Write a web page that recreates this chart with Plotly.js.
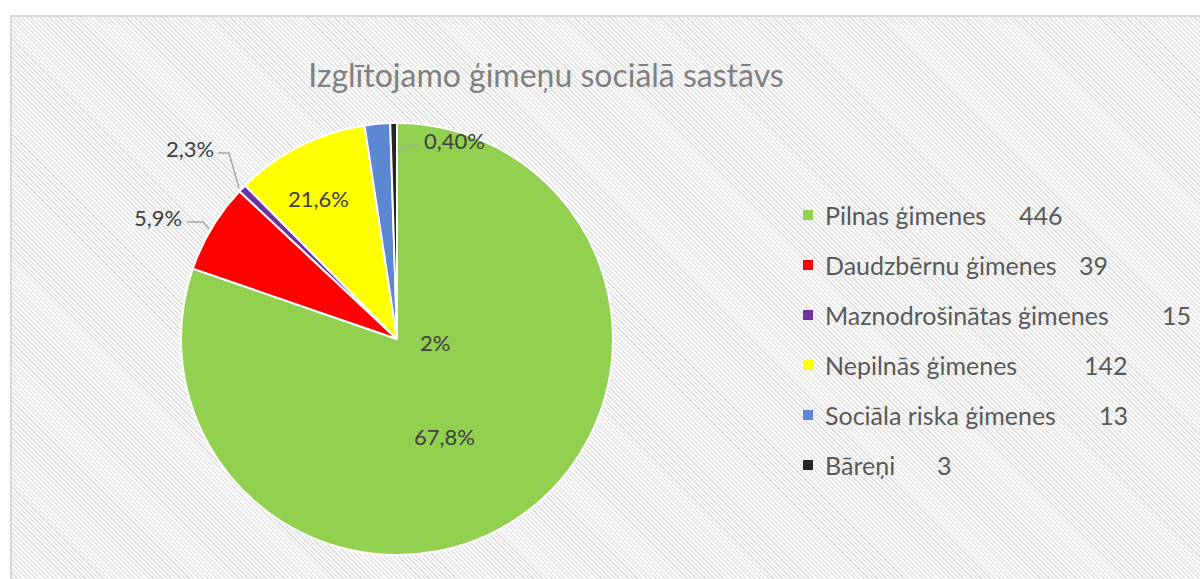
<!DOCTYPE html>
<html>
<head>
<meta charset="utf-8">
<script src="https://cdn.plot.ly/plotly-3.0.1.min.js"></script>
<style>
  html, body { margin: 0; padding: 0; background: #ffffff; width: 1200px; height: 579px; overflow: hidden; }
  #frame {
    position: absolute; left: 10px; top: 15px; width: 1200px; height: 600px;
    border-left: 2px solid #d9d9d9; border-top: 2px solid #d9d9d9;
    background: repeating-linear-gradient(45deg, #ffffff 0px, #ffffff 1.6px, #e3e3e3 1.6px, #e3e3e3 3.2px);
  }
  #chart { position: absolute; left: 0; top: 0; width: 1200px; height: 579px; }
</style>
</head>
<body>
<div id="frame"></div>
<div id="chart"></div>
<script>
// ---- data ----
const categories = ["Pilnas ģimenes", "Daudzbērnu ģimenes", "Maznodrošinātas ģimenes", "Nepilnās ģimenes", "Sociāla riska ģimenes", "Bāreņi"];
const counts = [446, 39, 15, 142, 13, 3];
// slice shares as drawn in the picture (%)
const sliceShares = [80.2, 6.7, 0.6, 10.0, 1.9, 0.5];
// data label texts as printed on the chart
const labelTexts = ["67,8%", "5,9%", "2,3%", "21,6%", "2%", "0,40%"];
const colors = ["#92d050", "#ff0000", "#7030a0", "#ffff00", "#5b87d3", "#262626"];

// ---- layout helpers (pixel positions -> paper) ----
const W = 1200, H = 579;
const px = x => x / W;
const py = y => 1 - y / H;
const FONT = "Lato, 'Open Sans', sans-serif";

const pieCenter = {x: 397, y: 339}, pieR = 216;

// data-label placements (pixels) and anchors
const labelPlace = [
  {x: 444, y: 436, xa: "center"},
  {x: 184, y: 217, xa: "right"},
  {x: 216, y: 148, xa: "right"},
  {x: 318, y: 198, xa: "center"},
  {x: 435, y: 342, xa: "center"},
  {x: 422, y: 140, xa: "left"}
];
// leader lines (pixels)
const leaders = [
  [[187, 222], [203, 222], [209, 229]],
  [[218, 153], [229, 153], [239, 188]],
  [[419, 145], [404, 146], [398, 152]]
];
// legend placement
const legend = {sqX: 803, sqSize: 10, textX: 823, y0: 215, dy: 50, numX: [1017, 1077, 1160, 1082, 1097, 935]};

const trace = {
  type: "pie",
  values: sliceShares,
  labels: categories,
  sort: false,
  direction: "clockwise",
  rotation: 0,
  textinfo: "none",
  hoverinfo: "none",
  showlegend: false,
  marker: {colors: colors, line: {color: "#ffffff", width: 2}},
  domain: {
    x: [px(pieCenter.x - pieR), px(pieCenter.x + pieR)],
    y: [py(pieCenter.y + pieR), py(pieCenter.y - pieR)]
  }
};

const annotations = [];
const shapes = [];

labelTexts.forEach((t, i) => {
  const p = labelPlace[i];
  annotations.push({
    text: t, x: px(p.x), y: py(p.y), xref: "paper", yref: "paper",
    xanchor: p.xa, yanchor: "middle", showarrow: false,
    font: {family: FONT, size: 22, color: "#404040"}
  });
});

leaders.forEach(pts => {
  const d = pts.map((p, k) => (k ? "L" : "M") + px(p[0]) + "," + py(p[1])).join(" ");
  shapes.push({type: "path", path: d, xref: "paper", yref: "paper", line: {color: "#a6a6a6", width: 1.5}});
});

categories.forEach((c, i) => {
  const y = legend.y0 + i * legend.dy;
  shapes.push({
    type: "rect", xref: "paper", yref: "paper",
    x0: px(legend.sqX), x1: px(legend.sqX + legend.sqSize),
    y0: py(y + legend.sqSize / 2), y1: py(y - legend.sqSize / 2),
    fillcolor: colors[i], line: {width: 0}
  });
  annotations.push({
    text: c, x: px(legend.textX), y: py(y), xref: "paper", yref: "paper",
    xanchor: "left", yanchor: "middle", showarrow: false,
    font: {family: FONT, size: 25, color: "#595959"}
  });
  annotations.push({
    text: String(counts[i]), x: px(legend.numX[i]), y: py(y), xref: "paper", yref: "paper",
    xanchor: "left", yanchor: "middle", showarrow: false,
    font: {family: FONT, size: 25, color: "#595959"}
  });
});

const layout = {
  width: W, height: H,
  margin: {l: 0, r: 0, t: 0, b: 0},
  paper_bgcolor: "rgba(0,0,0,0)",
  plot_bgcolor: "rgba(0,0,0,0)",
  title: {
    text: "Izglītojamo ģimeņu sociālā sastāvs",
    x: 546 / W, xanchor: "center", xref: "paper",
    y: 1 - 76 / H, yanchor: "middle", yref: "container",
    font: {family: FONT, size: 32, color: "#808080"}
  },
  annotations: annotations,
  shapes: shapes,
  showlegend: false
};

Plotly.newPlot("chart", [trace], layout, {displayModeBar: false, staticPlot: true});
</script>
</body>
</html>
